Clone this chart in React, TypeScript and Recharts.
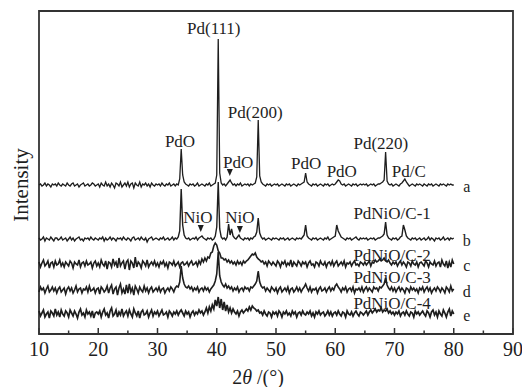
import React from 'react';
import { LineChart, Line, XAxis, YAxis, ReferenceDot, ReferenceArea } from 'recharts';

// 2θ sampling of every pattern: 10° to 80° in 0.25° steps
const START = 10;
const STEP = 0.25;

// intensities above each pattern's own baseline (one row = 5°)
const PD_C = [
  0, 1, -1, 0, 2, -1, 1, 0, -2, 1, 0, 1, -1, 2, 0, -1, 1, 0, -1, 2,
  0, -1, 1, 2, -1, 0, 1, -2, 0, 1, 2, -1, 0, 1, -1, 0, 2, 1, -1, 0,
  1, -2, 2, 0, -1, 3, -1, 1, -2, 2, 0, -3, 2, 1, -1, 3, -2, 0, 2, -1,
  3, -2, 1, 2, -3, 2, 0, -1, 3, -2, 1, 0, 2, -1, 1, -2, 2, 0, -1, 1,
  0, 1, -1, 2, 0, -1, 1, 0, 2, -1, 0, 1, -1, 1, 0, 6, 36, 10, 3, 1,
  0, -1, 1, 0, 1, -1, 0, 2, -1, 0, 1, 0, -1, 1, 0, 2, -1, 0, 1, 2,
  10, 146, 12, 2, 0, 1, -1, 1, 3, 5, 2, 0, 1, -1, 1, 0, 2, -1, 0, 1,
  0, 1, -1, 1, 0, 1, 2, 8, 65, 9, 3, 1, 0, -1, 1, 0, 1, -1, 0, 1,
  0, 1, -1, 0, 1, 0, -1, 1, 0, 1, -1, 0, 1, 0, -1, 1, 0, 1, 2, 3,
  12, 3, 1, 0, -1, 1, 0, 1, -1, 0, 1, 0, -1, 1, 0, 1, -1, 0, 1, 0,
  1, 3, 5, 4, 1, 0, 1, -1, 0, 1, 0, -1, 1, 0, 1, -1, 0, 1, 0, 1,
  0, 1, -1, 0, 1, 0, 1, -1, 0, 1, 1, 2, 3, 5, 33, 4, 1, 0, 1, -1,
  0, 1, 0, -1, 1, 2, 4, 6, 3, 1, -1, 0, 1, 0, -1, 1, 0, 1, 0, -1,
  1, 0, -1, 1, 0, 1, -1, 0, 1, 0, -1, 1, 0, 1, 0, -1, 1, 0, 1, 0,
  0,
];

const PDNIO_1 = [
  1, -1, 0, 2, -2, 1, 0, -1, 2, 0, -2, 1, 1, -1, 0, 2, -1, 0, 1, -2,
  0, 2, -1, 1, -2, 0, 1, 2, -1, 0, -2, 1, 0, 1, -1, 2, 0, -1, 1, 0,
  -1, 1, 0, 2, -2, 1, -1, 0, 2, -1, 1, 0, -2, 1, 0, 1, -1, 2, 0, -1,
  1, 0, -2, 1, 2, -1, 0, 1, -1, 2, 0, -1, 1, -3, 0, 1, 2, -1, 0, 1,
  0, -1, 1, 0, 2, -1, 0, 1, -1, 0, 2, -1, 1, 0, 2, 8, 50, 14, 4, 1,
  0, 1, -1, 0, 1, 0, 2, -1, 1, 2, 3, 1, 0, -1, 1, 0, 1, -1, 0, 3,
  12, 57, 10, 2, 0, 1, -1, 2, 15, 4, 10, 3, 1, 0, 2, 4, 1, 0, -1, 1,
  0, 1, -1, 1, 0, 2, 3, 7, 21, 6, 2, 0, 1, -1, 0, 1, 0, -1, 1, 0,
  1, 0, -1, 1, 0, 1, -1, 0, 1, -1, 0, 1, 0, -1, 1, 0, 1, 0, 2, 4,
  14, 3, 1, 0, -1, 1, 0, 1, -1, 0, 1, 0, -1, 1, 0, 2, -1, 0, 1, 2,
  3, 14, 8, 5, 2, 1, 0, -1, 1, 0, 1, -1, 0, 1, 2, 0, -1, 1, 0, 1,
  0, 1, -1, 0, 1, 0, 1, -1, 0, 1, 1, 2, 3, 5, 17, 4, 1, 0, -1, 1,
  0, 1, -1, 0, 2, 3, 14, 9, 3, 1, 0, -1, 1, 0, 1, -1, 0, 1, -1, 0,
  1, -1, 0, 2, -1, 1, 0, -2, 1, 0, 1, -1, 0, 2, -1, 0, 1, -1, 1, 0,
  1,
];

const PDNIO_2 = [
  2, -3, 1, 4, -2, 0, 3, -4, 1, 2, -3, 3, -1, 0, 4, -2, 1, -3, 2, 0,
  -2, 3, 1, -4, 2, 0, -1, 4, -3, 1, 2, -2, 3, -1, 0, 2, -4, 1, 3, -2,
  1, -3, 4, 0, -2, 3, -5, 2, 1, -3, 5, -1, 2, -4, 6, -2, 1, 3, -5, 2,
  4, -6, 3, 1, -4, 7, -3, 2, 0, -4, 3, 1, -2, 4, -3, 0, 2, -1, 3, -2,
  1, -3, 2, 0, 3, -2, 1, -4, 2, 1, -1, 3, -2, 0, 2, -3, 1, 2, -1, 0,
  2, -2, 1, 3, -1, 0, 2, -2, 3, 0, 5, 2, 6, 3, 7, 6, 11, 12, 18, 21,
  19, 13, 11, 6, 6, 4, 5, 2, 4, 1, 3, 0, 2, -1, 3, 0, 2, -1, 3, 1,
  3, 4, 6, 8, 10, 9, 11, 7, 5, 4, 2, 3, 0, 2, -2, 3, 1, -1, 2, 0,
  -2, 3, 1, -3, 2, 0, 3, -2, 1, -1, 4, -3, 2, 0, -2, 3, 1, -2, 2, 0,
  2, -3, 1, 3, -1, 0, -3, 2, 1, -2, 3, 0, -1, 2, -3, 1, 2, -1, 3, -2,
  1, 3, -2, 0, 2, -1, 3, -3, 1, 0, 2, -2, 1, 3, -1, 0, -2, 2, 1, -1,
  2, -1, 1, 3, -2, 2, 1, 4, 2, 3, 5, 3, 4, 6, 3, 2, 4, 1, -1, 2,
  0, 2, -2, 1, 3, -1, 2, 0, -3, 2, 1, -2, 3, 0, -1, 2, -3, 1, 2, 0,
  -2, 3, 1, -3, 2, 0, -1, 3, -2, 1, 2, -3, 4, 0, -2, 3, -4, 2, -3, 4,
  0,
];

const PDNIO_3 = [
  -2, 3, 0, 2, -3, 1, 4, -2, 0, 3, -1, 2, -3, 1, 3, -2, 0, 2, -4, 1,
  3, -1, 2, -3, 0, 4, -2, 1, 2, -3, 1, 0, 3, -2, 4, -1, 0, 2, -3, 1,
  2, -4, 3, 1, -2, 0, 4, -3, 2, 5, -4, 1, 3, -5, 2, 6, -3, 1, -4, 5,
  -3, 6, -2, 2, -5, 4, 1, -3, 3, 0, -2, 4, -1, 2, -3, 1, 3, -2, 0, 2,
  -1, 3, -2, 1, 2, -3, 0, 2, -1, 3, 1, -2, 2, 4, 3, 8, 24, 12, 6, 3,
  2, 4, 1, 3, -1, 2, 0, 3, -2, 1, 2, -1, 3, 0, 2, -2, 1, 3, 5, 9,
  16, 38, 14, 8, 5, 3, 6, 2, 4, 1, 3, -1, 2, 0, 3, -2, 1, 2, -1, 3,
  1, 2, -1, 3, 2, 4, 6, 9, 19, 8, 4, 2, 3, -1, 2, 0, -2, 3, 1, -1,
  2, -3, 1, 3, -2, 0, 2, -1, 3, -3, 1, 2, -2, 0, 3, -1, 2, -2, 1, 3,
  6, 2, -1, 3, -2, 1, 0, 2, -3, 1, 3, -1, 0, 2, -2, 1, 3, -1, 2, 0,
  4, 6, 3, 1, -2, 2, 0, 3, -2, 1, 2, -1, 3, -3, 1, 0, 2, -1, 3, -2,
  1, 3, -1, 2, 0, -2, 3, 1, 2, -1, 3, 2, 4, 6, 12, 5, 2, 0, 3, -1,
  2, -2, 1, 3, -1, 2, 0, -3, 2, 1, -2, 3, 0, 2, -1, 1, -3, 2, 0, 3,
  -2, 1, 3, -1, 2, -3, 0, 2, -1, 3, 1, -2, 2, 0, -3, 3, 1, -2, 4, -1,
  1,
];

const PDNIO_4 = [
  3, -2, 1, 4, -3, 0, 2, -4, 3, 1, -2, 5, -1, 2, -3, 4, 0, -2, 3, 1,
  -3, 4, 1, -2, 3, 0, -4, 2, 5, -1, 1, -3, 4, 0, 2, -2, 3, -4, 1, 2,
  0, 3, -3, 2, 5, -1, 1, -4, 3, 6, -2, 0, 4, -3, 2, -1, 5, -2, 1, 3,
  -2, 4, 0, -3, 5, 1, -2, 3, -4, 2, 4, -1, 0, 3, -3, 1, 4, -2, 2, 0,
  3, -2, 1, 4, -1, 0, 2, -3, 3, 1, -2, 2, 0, 3, -1, 2, 4, 1, -2, 3,
  0, 2, -3, 1, 3, -1, 2, 0, 4, 1, 3, -1, 2, 6, 1, 7, 3, 9, 5, 14,
  8, 17, 6, 15, 4, 12, 3, 9, 2, 6, 1, 5, 2, 0, 3, -2, 2, 4, 1, 3,
  5, 3, 7, 4, 8, 6, 5, 3, 4, 1, 2, -1, 3, 0, -2, 2, 1, -3, 2, 0,
  2, -2, 3, 1, -3, 2, 0, 3, -1, 1, -2, 3, 0, 2, -3, 1, 2, -1, 3, 0,
  -1, 2, 0, 3, -2, 1, -3, 2, 0, 3, -1, 1, 2, -2, 0, 3, -1, 2, -2, 1,
  2, -1, 3, 0, -2, 2, 1, -3, 3, 0, -1, 2, -2, 1, 3, 0, -2, 2, 1, -1,
  1, 3, -1, 2, 4, 1, 3, 5, 2, 4, 3, 6, 2, 4, 3, 5, 1, 3, 0, 2,
  -1, 2, 0, 3, -2, 1, 2, -1, 3, 0, -2, 2, 1, -3, 3, 0, 2, -1, 1, 3,
  0, -2, 3, 1, -3, 2, 4, -1, 2, -3, 3, 0, -2, 4, 1, -3, 2, 5, -2, 3,
  0,
];

// vertical stacking of the five patterns (a..e)
const PATTERNS = [PD_C, PDNIO_1, PDNIO_2, PDNIO_3, PDNIO_4];
const OFFSETS = [149, 95, 70, 44, 20];
const CURVE_LETTERS = ['a', 'b', 'c', 'd', 'e'];
const STROKES = [1.3, 1.4, 1.6, 1.6, 1.7];

const X_TICKS = [10, 15, 20, 25, 30, 35, 40, 45, 50, 55, 60, 65, 70, 75, 80, 85, 90];

// annotation text, 2θ, height on the intensity scale
const PEAK_LABELS: [string, number, number][] = [
  ['Pd(111)', 39.5, 306],
  ['Pd(200)', 46.5, 222],
  ['PdO', 33.8, 193],
  ['PdO', 43.6, 172],
  ['PdO', 55.1, 171],
  ['PdO', 61.1, 163],
  ['Pd(220)', 67.7, 191],
  ['Pd/C', 72.4, 163],
  ['NiO', 36.8, 117],
  ['NiO', 43.9, 117],
  ['PdNiO/C-1', 69.6, 121],
  ['PdNiO/C-2', 69.6, 79],
  ['PdNiO/C-3', 69.6, 57],
  ['PdNiO/C-4', 69.6, 31],
];
const ARROWS: [number, number][] = [
  [42.2, 162],
  [37.3, 106],
  [43.9, 105],
];

const INK = '#1e1e1e';
const FRAME = '#333';
const SERIF = '"Liberation Serif", "Times New Roman", serif';

const toPoints = (vals: number[], offset: number) =>
  vals.map((v, i) => ({ x: START + i * STEP, y: v + offset }));

const XTick = (props: any) => {
  const { x, y, payload } = props;
  const major = payload.value % 10 === 0;
  return (
    <g>
      <path d={`M${x},${y}V${y - (major ? 6 : 3.5)}`} stroke={FRAME} strokeWidth={1.5} fill="none" />
      {major && (
        <text x={x} y={y + 22} textAnchor="middle" fontSize={20} fontFamily={SERIF} fill={INK}>
          {payload.value}
        </text>
      )}
    </g>
  );
};

// axis titles (x title below the ticks, rotated y title at the left)
const AxisTitles = () => (
  <g>
    <text x={258} y={384} textAnchor="middle" fontSize={20} fontFamily={SERIF} fill={INK}>
      2<tspan fontStyle="italic">θ</tspan> /(°)
    </text>
    <text
      transform="translate(21, 185) rotate(-90)"
      textAnchor="middle"
      dominantBaseline="central"
      fontSize={21}
      fontFamily={SERIF}
      fill={INK}
    >
      Intensity
    </text>
  </g>
);

const textShape = (t: string, size: number) => (p: any) => (
  <text
    x={p.cx}
    y={p.cy}
    textAnchor="middle"
    dominantBaseline="central"
    fontSize={size}
    fontFamily={SERIF}
    fill={INK}
  >
    {t}
  </text>
);

export default function App() {
  return (
    <div style={{ position: 'absolute', left: 0, top: 0, background: '#fff' }}>
      <LineChart width={522} height={387} margin={{ top: 11, right: 9, left: 39, bottom: 0 }}>
        <XAxis
          dataKey="x"
          type="number"
          domain={[10, 90]}
          ticks={X_TICKS}
          interval={0}
          height={53}
          tickSize={0}
          tickMargin={0}
          tickLine={false}
          tick={<XTick />}
          axisLine={false}
          label={<AxisTitles />}
        />
        <YAxis type="number" domain={[0, 323]} hide />
        {/* plot frame */}
        <ReferenceArea
          x1={10}
          x2={90}
          y1={0}
          y2={323}
          fill="none"
          fillOpacity={0}
          stroke={FRAME}
          strokeWidth={1.8}
          ifOverflow="visible"
        />
        {PATTERNS.map((vals, i) => (
          <Line
            key={CURVE_LETTERS[i]}
            data={toPoints(vals, OFFSETS[i])}
            dataKey="y"
            type="linear"
            stroke={INK}
            strokeWidth={STROKES[i]}
            dot={false}
            isAnimationActive={false}
          />
        ))}
        {PEAK_LABELS.map(([t, x, y], i) => (
          <ReferenceDot key={`lab-${i}`} x={x} y={y} r={1} shape={textShape(t, 17)} />
        ))}
        {CURVE_LETTERS.map((t, i) => (
          <ReferenceDot key={`cl-${t}`} x={82.2} y={OFFSETS[i] - 1} r={1} shape={textShape(t, 16)} />
        ))}
        {ARROWS.map(([x, y], i) => (
          <ReferenceDot
            key={`ar-${i}`}
            x={x}
            y={y}
            r={1}
            shape={(p: any) => (
              <path
                d={`M${p.cx - 3},${p.cy - 3}L${p.cx + 3},${p.cy - 3}L${p.cx},${p.cy + 4}Z`}
                fill={INK}
              />
            )}
          />
        ))}
      </LineChart>
    </div>
  );
}
